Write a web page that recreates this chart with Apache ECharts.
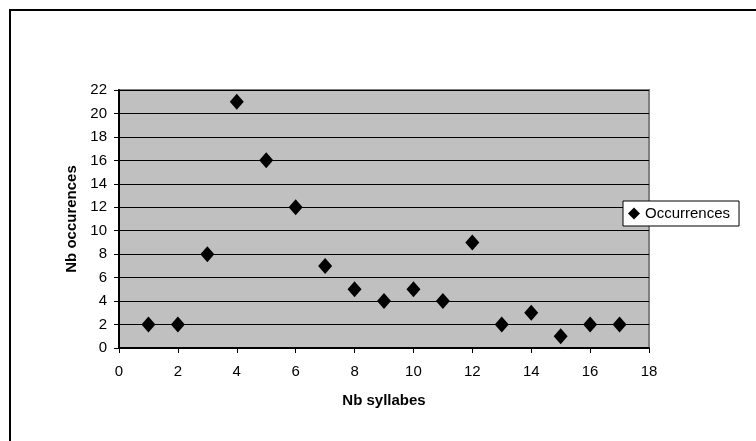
<!DOCTYPE html>
<html>
<head>
<meta charset="utf-8">
<script src="https://cdn.jsdelivr.net/npm/echarts@6/dist/echarts.min.js"></script>
<style>
  html, body { margin: 0; padding: 0; background: #fff; }
  #chart { width: 756px; height: 441px; }
</style>
</head>
<body>
<div id="chart"></div>
<script>
// nb de syllabes et nb d'occurrences
const syllabes = [1, 2, 3, 4, 5, 6, 7, 8, 9, 10, 11, 12, 13, 14, 15, 16, 17]
const occurrences = [2, 2, 8, 21, 16, 12, 7, 5, 4, 5, 4, 9, 2, 3, 1, 2, 2]
const seriesName = 'Occurrences'

const chart = echarts.init(document.getElementById('chart'))

const option = {
  animation: false,
  textStyle: { fontFamily: 'Liberation Sans, Arial, sans-serif' },
  graphic: [
    // cadre extérieur
    {
      type: 'rect',
      shape: { x: 10, y: 10, width: 800, height: 500 },
      style: { fill: 'none', stroke: '#000', lineWidth: 2 },
      silent: true,
      z: -1
    }
  ],
  grid: {
    left: 119,
    right: 107,
    top: 90,
    bottom: 93,
    show: true,
    backgroundColor: '#c0c0c0',
    borderColor: '#808080',
    borderWidth: 2
  },
  legend: {
    data: [seriesName],
    left: 623,
    top: 201,
    orient: 'vertical',
    backgroundColor: '#fff',
    borderColor: '#000',
    borderWidth: 1,
    borderRadius: 0,
    padding: [5, 9, 5, 5],
    itemWidth: 12,
    itemHeight: 12,
    itemGap: 2,
    textStyle: { fontSize: 15, color: '#000' }
  },
  xAxis: {
    type: 'value',
    min: 0,
    max: 18,
    interval: 2,
    name: 'Nb syllabes',
    nameLocation: 'middle',
    nameGap: 45,
    nameTextStyle: { fontWeight: 'bold', fontSize: 15, color: '#000' },
    axisLine: { show: true, lineStyle: { color: '#000', width: 2 } },
    axisTick: { show: true, length: 5, lineStyle: { color: '#000' } },
    axisLabel: { fontSize: 15, color: '#000', margin: 16 },
    splitLine: { show: false }
  },
  yAxis: {
    type: 'value',
    min: 0,
    max: 22,
    interval: 2,
    name: 'Nb occurences',
    nameLocation: 'middle',
    nameGap: 38,
    nameTextStyle: { fontWeight: 'bold', fontSize: 15, color: '#000' },
    axisLine: { show: true, lineStyle: { color: '#000', width: 2 } },
    axisTick: { show: true, length: 5, lineStyle: { color: '#000' } },
    axisLabel: { fontSize: 15, color: '#000', margin: 12 },
    splitLine: { show: true, lineStyle: { color: '#000', width: 1 } }
  },
  series: [
    {
      name: seriesName,
      type: 'scatter',
      symbol: 'diamond',
      symbolSize: [14, 16],
      itemStyle: { color: '#000', opacity: 1 },
      data: syllabes.map((s, i) => [s, occurrences[i]])
    }
  ]
}

chart.setOption(option)
</script>
</body>
</html>
